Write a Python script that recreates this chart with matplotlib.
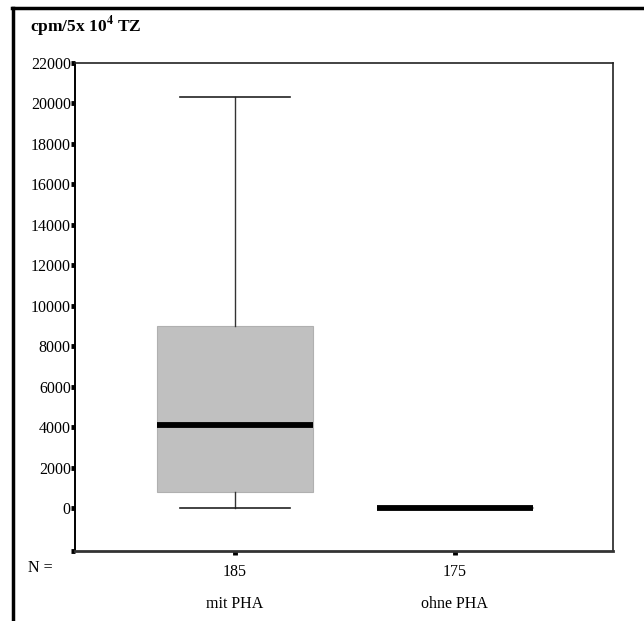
import matplotlib.pyplot as plt
from matplotlib.lines import Line2D

# Data
groups = ['mit PHA', 'ohne PHA']
n_counts = [185, 175]
whislo = [0, 0]
q1 = [800, 20]
med = [4100, 40]
q3 = [9000, 60]
whishi = [20300, 80]

plt.rcParams['font.family'] = ['Liberation Serif', 'DejaVu Serif']
plt.rcParams['mathtext.fontset'] = 'stix'

fig = plt.figure(figsize=(6.44, 6.21), dpi=100)
ax = fig.add_axes([75 / 644, 1 - 551 / 621, 538 / 644, 488 / 621])

stats = []
for i in range(len(groups)):
    stats.append({'whislo': whislo[i], 'q1': q1[i], 'med': med[i],
                  'q3': q3[i], 'whishi': whishi[i], 'fliers': [], 'label': groups[i]})

ax.bxp(stats, positions=[1, 2], widths=0.71, patch_artist=True, showfliers=False,
       boxprops=dict(facecolor='#c0c0c0', edgecolor='#b0b0b0', linewidth=0.8),
       medianprops=dict(color='black', linewidth=4.2, solid_capstyle='butt'),
       whiskerprops=dict(color='#333333', linewidth=1.0),
       capprops=dict(color='#222222', linewidth=1.2),
       capwidths=0.5)

ax.set_xlim(0.274, 2.72)
ax.set_ylim(-2100, 22000)

yt = list(range(0, 22001, 2000))
ax.set_yticks([-2100] + yt)
ax.set_yticklabels([''] + [str(v) for v in yt], fontsize=11.5)
ax.tick_params(axis='y', direction='out', length=3, width=3.5, pad=0, color='black')

ax.set_xticks([1, 2])
ax.set_xticklabels([str(n) for n in n_counts], fontsize=11.5)
ax.tick_params(axis='x', direction='out', length=3, width=3.5, pad=6, color='black')

for s in ['top', 'right']:
    ax.spines[s].set_linewidth(1.2)
    ax.spines[s].set_color('#222222')
ax.spines['left'].set_linewidth(1.4)
ax.spines['bottom'].set_linewidth(2.0)
ax.spines['bottom'].set_color('#333333')

# N= label and group names below
fig.text(40 / 644, 1 - 568 / 621, 'N =', fontsize=11.5, ha='center', va='center')
for i, g in enumerate(groups):
    xd = ax.transData.transform((i + 1, 0))[0]
    xf = fig.transFigure.inverted().transform((xd, 0))[0]
    fig.text(xf, 1 - 604 / 621, g, fontsize=11.5, ha='center', va='center')

# Title
fig.text(30 / 644, 1 - 27 / 621, r'cpm/5x 10$^\mathbf{4}$ TZ', fontsize=12.5,
         fontweight='bold', ha='left', va='center')

# Outer frame (top and left)
fig.add_artist(Line2D([12 / 644, 1], [1 - 8 / 621, 1 - 8 / 621], color='black', linewidth=2.5,
                      transform=fig.transFigure))
fig.add_artist(Line2D([13 / 644, 13 / 644], [1 - 8 / 621, 0], color='black', linewidth=2.5,
                      transform=fig.transFigure))

fig.savefig('out.png', dpi=100)
